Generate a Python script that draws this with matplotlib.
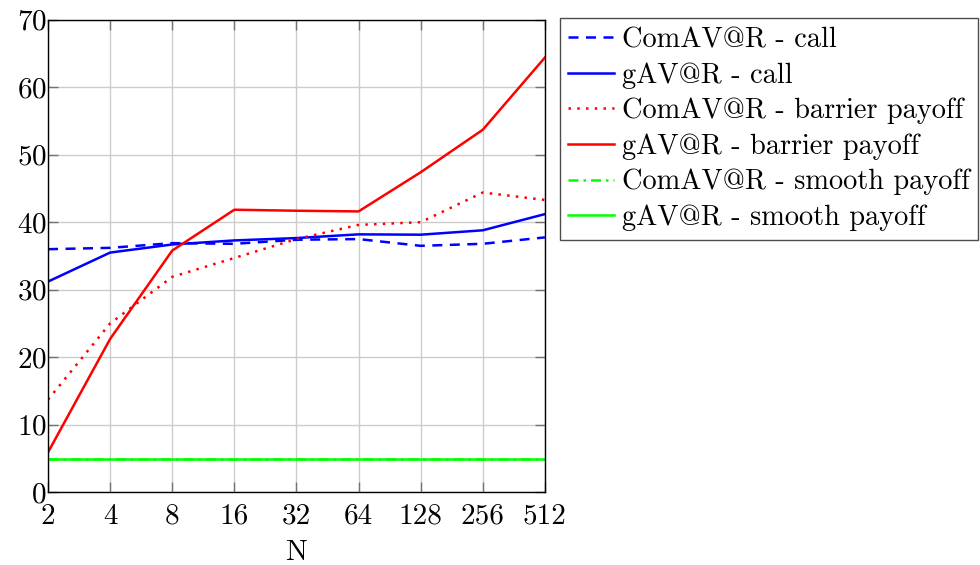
import numpy as np
import matplotlib.pyplot as plt

plt.rcParams['font.family'] = ['cmr10', 'DejaVu Serif']
plt.rcParams['axes.formatter.use_mathtext'] = True

N = [2, 4, 8, 16, 32, 64, 128, 256, 512]

comavar_call = [36.0, 36.2, 36.9, 36.8, 37.4, 37.5, 36.5, 36.8, 37.75]
gavar_call = [31.2, 35.5, 36.7, 37.3, 37.65, 38.2, 38.15, 38.8, 41.2]
comavar_barrier = [13.7, 25.0, 31.9, 34.7, 37.5, 39.6, 40.0, 44.4, 43.3]
gavar_barrier = [5.9, 22.7, 35.8, 41.85, 41.7, 41.6, 47.4, 53.7, 64.4]
comavar_smooth = [4.9, 4.9, 4.9, 4.9, 4.9, 4.9, 4.9, 4.9, 4.9]
gavar_smooth = [4.9, 4.9, 4.9, 4.9, 4.9, 4.9, 4.9, 4.9, 4.9]

fig = plt.figure(figsize=(9.8, 5.65), dpi=100)
ax = fig.add_axes([0.049, 0.129, 0.507, 0.836])

lw = 1.8
ax.plot(N, comavar_call, color='blue', lw=lw, dashes=(4, 3), label='ComAV@R - call')
ax.plot(N, gavar_call, color='blue', lw=lw, label='gAV@R - call')
ax.plot(N, comavar_barrier, color='red', lw=lw, dashes=(1, 2.5), label='ComAV@R - barrier payoff')
ax.plot(N, gavar_barrier, color='red', lw=lw, label='gAV@R - barrier payoff')
ax.plot(N, comavar_smooth, color='#00ff00', lw=lw, dashes=(4, 2, 1, 2), label='ComAV@R - smooth payoff')
ax.plot(N, gavar_smooth, color='#00ff00', lw=lw, label='gAV@R - smooth payoff')

ax.set_xscale('log', base=2)
ax.set_xlim(2, 512)
ax.set_ylim(0, 70)
ax.set_xticks(N)
ax.set_xticklabels([str(n) for n in N])
ax.minorticks_off()
ax.set_yticks(range(0, 71, 10))
ax.tick_params(direction='in', length=7, width=1, color='0.45', labelsize=21,
               top=True, right=True)
ax.tick_params(axis='x', pad=8)
ax.tick_params(axis='y', pad=1)
ax.grid(True, color='0.8', lw=1)
ax.set_axisbelow(True)
for s in ax.spines.values():
    s.set_linewidth(1.0)
ax.set_xlabel('N', fontsize=21, labelpad=7.5)

leg = ax.legend(loc='upper left', bbox_to_anchor=(1.03, 1.003), fontsize=20.4,
                frameon=True, fancybox=False, edgecolor='0.3', framealpha=1,
                handlelength=1.6, handletextpad=0.3, labelspacing=0.32,
                borderpad=0.3, borderaxespad=0)
leg.get_frame().set_linewidth(1.0)

fig.savefig('out.png', dpi=100)
